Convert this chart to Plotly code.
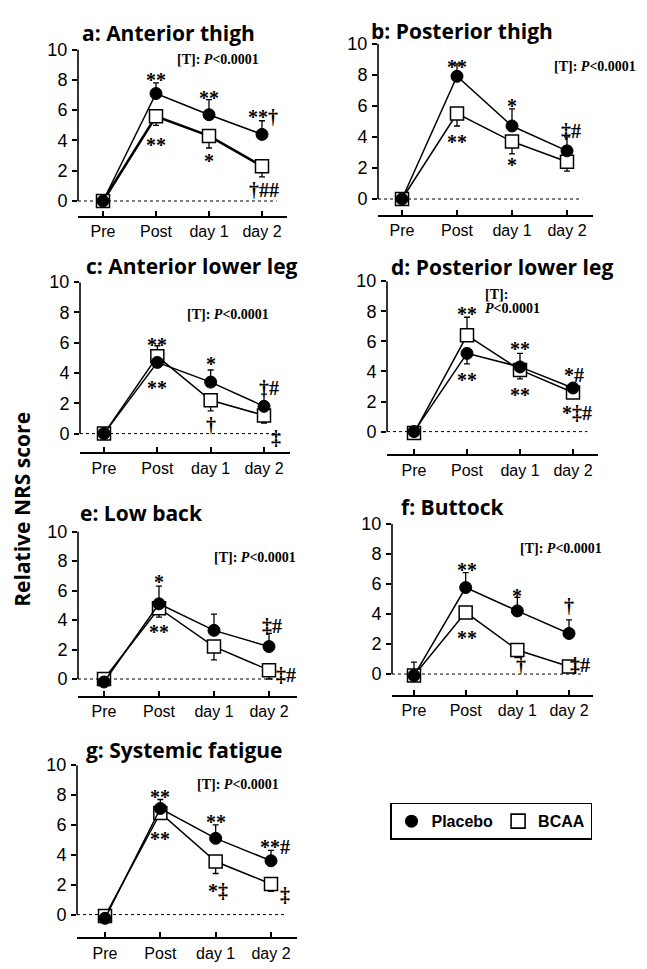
import plotly.graph_objects as go

W, H = 647, 969

# ---------------- data ----------------
categories = ["Pre", "Post", "day 1", "day 2"]
panel_titles = ["a: Anterior thigh", "b: Posterior thigh", "c: Anterior lower leg",
                "d: Posterior lower leg", "e: Low back", "f: Buttock", "g: Systemic fatigue"]
ytick_vals = [0, 2, 4, 6, 8, 10]
stat_text = "[T]: <i>P</i><0.0001"
series_names = ["Placebo", "BCAA"]

placebo_a = [0, 7.1, 5.7, 4.4]
placebo_a_up = [0, 0.7, 1.0, 0.9]
placebo_a_dn = [0, 0, 0, 0]
bcaa_a = [0, 5.6, 4.3, 2.3]
bcaa_a_up = [0, 0, 0, 0]
bcaa_a_dn = [0, 0.6, 0.8, 0.7]

placebo_b = [0, 7.9, 4.7, 3.1]
placebo_b_up = [0, 0.8, 1.1, 0.9]
placebo_b_dn = [0, 0, 0, 0]
bcaa_b = [0, 5.5, 3.7, 2.4]
bcaa_b_up = [0, 0, 0, 0]
bcaa_b_dn = [0, 0.8, 0.8, 0.6]

placebo_c = [0, 4.7, 3.4, 1.8]
placebo_c_up = [0, 0, 0.8, 0.8]
placebo_c_dn = [0, 0, 0, 0]
bcaa_c = [0, 5.1, 2.2, 1.2]
bcaa_c_up = [0, 0.7, 0, 0]
bcaa_c_dn = [0, 0, 0.7, 0.5]

placebo_d = [0, 5.2, 4.3, 2.9]
placebo_d_up = [0, 0, 0.9, 0.3]
placebo_d_dn = [0, 0.7, 0, 0]
bcaa_d = [-0.1, 6.4, 4.1, 2.6]
bcaa_d_up = [0, 1.2, 0, 0]
bcaa_d_dn = [0, 0, 0.6, 0.3]

placebo_e = [-0.2, 5.1, 3.3, 2.2]
placebo_e_up = [0, 1.2, 1.1, 0.9]
placebo_e_dn = [0, 0, 0, 0]
bcaa_e = [0, 4.8, 2.2, 0.6]
bcaa_e_up = [0, 0, 0, 0]
bcaa_e_dn = [0, 0.6, 0.9, 0.6]

placebo_f = [-0.1, 5.75, 4.2, 2.7]
placebo_f_up = [0.9, 1.0, 0.9, 0.9]
placebo_f_dn = [0, 0, 0, 0]
bcaa_f = [-0.1, 4.1, 1.6, 0.5]
bcaa_f_up = [0, 0, 0, 0]
bcaa_f_dn = [0, 0.4, 0.5, 0.4]

placebo_g = [-0.25, 7.1, 5.1, 3.6]
placebo_g_up = [0, 0.6, 0.9, 0.7]
placebo_g_dn = [0, 0, 0, 0]
bcaa_g = [-0.1, 6.8, 3.55, 2.05]
bcaa_g_up = [0, 0, 0, 0]
bcaa_g_dn = [0, 0.4, 0.8, 0.5]

placebo_sets = [
    (placebo_a, placebo_a_up, placebo_a_dn), (placebo_b, placebo_b_up, placebo_b_dn),
    (placebo_c, placebo_c_up, placebo_c_dn), (placebo_d, placebo_d_up, placebo_d_dn),
    (placebo_e, placebo_e_up, placebo_e_dn), (placebo_f, placebo_f_up, placebo_f_dn),
    (placebo_g, placebo_g_up, placebo_g_dn)]
bcaa_sets = [
    (bcaa_a, bcaa_a_up, bcaa_a_dn), (bcaa_b, bcaa_b_up, bcaa_b_dn),
    (bcaa_c, bcaa_c_up, bcaa_c_dn), (bcaa_d, bcaa_d_up, bcaa_d_dn),
    (bcaa_e, bcaa_e_up, bcaa_e_dn), (bcaa_f, bcaa_f_up, bcaa_f_dn),
    (bcaa_g, bcaa_g_up, bcaa_g_dn)]

# significance marks (category position, value level, text)
sig_marks = [
    [(1, 8.3, "**"), (1, 4.05, "**"), (2, 7.1, "**"), (2, 2.95, "*"),
     (3.02, 5.7, "**†"), (3.04, 0.85, "†##")],
    [(1, 8.85, "**"), (1, 4.0, "**"), (2, 6.3, "*"), (2, 2.5, "*"), (3.07, 4.5, "‡#")],
    [(1, 6.2, "**"), (1, 3.33, "**"), (2, 4.9, "*"), (2, 0.72, "†"),
     (3.1, 3.14, "†#"), (3.23, -0.13, "‡")],
    [(1, 8.16, "**"), (1, 3.75, "**"), (2, 5.8, "**"), (2, 2.76, "**"),
     (3.02, 3.9, "*#"), (3.08, 1.38, "*‡#")],
    [(1, 6.9, "*"), (1, 3.55, "**"), (3.05, 3.76, "‡#"), (3.31, 0.4, "‡#")],
    [(1.02, 7.25, "**"), (1.02, 2.75, "**"), (2, 5.55, "*"), (2.07, 0.72, "†"),
     (3, 4.64, "†"), (3.21, 0.72, "‡#")],
    [(1, 8.2, "**"), (1, 5.36, "**"), (2, 6.56, "**"), (2.05, 1.72, "*‡"),
     (3.07, 4.64, "**#"), (3.25, 1.46, "‡")],
]
# stat label (left category position, level)
stat_pos = [(1.36, 9.35), (2.73, 8.55), (1.52, 7.84), None, (1.96, 8.25), (2.01, 8.37), (1.63, 8.68)]

# ---------------- layout geometry (pixels) ----------------
geom = [
    dict(xl=78, xr=287, xpre=103, xd2=262, y10=40, y0=193, yb=208, tx=168, ty=23),
    dict(xl=378, xr=593, xpre=402, xd2=567, y10=34, y0=191, yb=207, tx=462, ty=21),
    dict(xl=80, xr=290, xpre=104, xd2=264, y10=275, y0=428, yb=447, tx=192, ty=259),
    dict(xl=387, xr=598, xpre=414, xd2=573, y10=274, y0=426, yb=449, tx=502, ty=260),
    dict(xl=78, xr=297, xpre=104, xd2=269, y10=527, y0=676, yb=693, tx=141, ty=508),
    dict(xl=392, xr=593, xpre=414, xd2=569, y10=519, y0=671, yb=692, tx=453, ty=502),
    dict(xl=77, xr=297, xpre=105, xd2=271, y10=763, y0=914, yb=937, tx=184, ty=748),
]

fig = go.Figure()
shapes = []
annotations = []
layout_axes = {}

SANS = "Liberation Sans, Arial, sans-serif"
SERIF = "Liberation Serif, Times New Roman, serif"
TITLEF = "Open Sans, sans-serif"

for i, g in enumerate(geom):
    n = i + 1
    xa = "x" if n == 1 else f"x{n}"
    ya = "y" if n == 1 else f"y{n}"
    xkey = "xaxis" if n == 1 else f"xaxis{n}"
    ykey = "yaxis" if n == 1 else f"yaxis{n}"

    s = (g["xd2"] - g["xpre"]) / 3.0
    xrange = [-(g["xpre"] - g["xl"]) / s, 3 + (g["xr"] - g["xd2"]) / s]
    sy = (g["y0"] - g["y10"]) / 10.0
    ymin = -(g["yb"] - g["y0"]) / sy

    layout_axes[xkey] = dict(
        domain=[g["xl"] / W, g["xr"] / W], anchor=ya,
        type="category", categoryorder="array", categoryarray=categories,
        range=xrange, showline=True, linewidth=2, linecolor="black",
        ticks="inside", ticklen=5, tickwidth=1.5, tickcolor="black",
        showgrid=False, zeroline=False, fixedrange=True,
        tickfont=dict(family=SANS, size=16, color="black"),
        ticklabelstandoff=0,
    )
    layout_axes[ykey] = dict(
        domain=[1 - g["yb"] / H, 1 - g["y10"] / H], anchor=xa,
        range=[ymin, 10], tickvals=ytick_vals, showline=False,
        ticks="outside", ticklen=5, tickwidth=1.5, tickcolor="black",
        showgrid=False, zeroline=False, fixedrange=True,
        tickfont=dict(family=SANS, size=18, color="black"),
        ticklabelstandoff=1,
    )

    shapes.append(dict(type="line", xref=f"{xa} domain", yref=ya, x0=0, x1=0, y0=0, y1=10,
                       line=dict(color="black", width=1.6)))
    shapes.append(dict(type="line", xref=f"{xa} domain", yref=ya, x0=0, x1=0.95, y0=0, y1=0,
                       line=dict(color="black", width=1, dash="dot")))

    bv, bup, bdn = bcaa_sets[i]
    pv, pup, pdn = placebo_sets[i]

    fig.add_trace(go.Scatter(
        x=categories, y=bv, xaxis=xa, yaxis=ya, mode="lines+markers", showlegend=False,
        line=dict(color="black", width=2.6 if n == 1 else 1.5),
        marker=dict(symbol="square", size=13, color="white", line=dict(color="black", width=1.5)),
        error_y=dict(type="data", symmetric=False, array=bup, arrayminus=bdn,
                     color="black", thickness=1.3, width=3),
    ))
    fig.add_trace(go.Scatter(
        x=categories, y=pv, xaxis=xa, yaxis=ya, mode="lines+markers", showlegend=False,
        line=dict(color="black", width=1.5),
        marker=dict(symbol="circle", size=12, color="black", line=dict(color="black", width=1)),
        error_y=dict(type="data", symmetric=False, array=pup, arrayminus=pdn,
                     color="black", thickness=1.3, width=3),
    ))

    annotations.append(dict(text=f"<b>{panel_titles[i]}</b>", xref="paper", yref="paper",
                            x=g["tx"] / W, y=1 - g["ty"] / H, xanchor="center", yanchor="middle",
                            showarrow=False, font=dict(family=TITLEF, size=21, color="black")))
    for (cx, cy, t) in sig_marks[i]:
        shift = -5 if set(t) == {"*"} else -2
        annotations.append(dict(text=f"<b>{t}</b>", xref=xa, yref=ya, x=cx, y=cy, xanchor="center",
                                yanchor="middle", showarrow=False, yshift=shift,
                                font=dict(family=SERIF, size=20, color="black")))
    if stat_pos[i] is not None:
        sx, sy_ = stat_pos[i]
        annotations.append(dict(text=f"<b>{stat_text}</b>", xref=xa, yref=ya, x=sx, y=sy_,
                                xanchor="left", yanchor="middle", showarrow=False,
                                font=dict(family=SERIF, size=14, color="black")))
    else:
        annotations.append(dict(text="<b>[T]:</b>", xref=xa, yref=ya, x=1.3, y=9.14,
                                xanchor="left", yanchor="middle", showarrow=False,
                                font=dict(family=SERIF, size=14, color="black")))
        annotations.append(dict(text="<b><i>P</i><0.0001</b>", xref=xa, yref=ya, x=1.3, y=8.16,
                                xanchor="left", yanchor="middle", showarrow=False,
                                font=dict(family=SERIF, size=14, color="black")))

annotations.append(dict(text="<b>Relative NRS score</b>", xref="paper", yref="paper",
                        x=22 / W, y=1 - 505 / H, textangle=-90, showarrow=False,
                        xanchor="center", yanchor="middle",
                        font=dict(family=TITLEF, size=21, color="black")))

fig.add_trace(go.Scatter(x=[None], y=[None], mode="markers", name=f"<b>{series_names[0]}</b>",
                         marker=dict(symbol="circle", size=13, color="black")))
fig.add_trace(go.Scatter(x=[None], y=[None], mode="markers", name=f"<b>{series_names[1]}</b>",
                         marker=dict(symbol="square", size=14, color="white",
                                     line=dict(color="black", width=1.6))))

fig.update_layout(
    width=W, height=H, margin=dict(l=0, r=0, t=0, b=0),
    paper_bgcolor="white", plot_bgcolor="white",
    shapes=shapes, annotations=annotations,
    showlegend=True,
    legend=dict(orientation="h", x=390 / W, y=1 - 801 / H, xanchor="left", yanchor="top",
                bordercolor="black", borderwidth=1.5, bgcolor="white",
                font=dict(family=SANS, size=16, color="black"),
                itemwidth=30, traceorder="normal"),
    **layout_axes,
)

fig.write_html("out.html")
